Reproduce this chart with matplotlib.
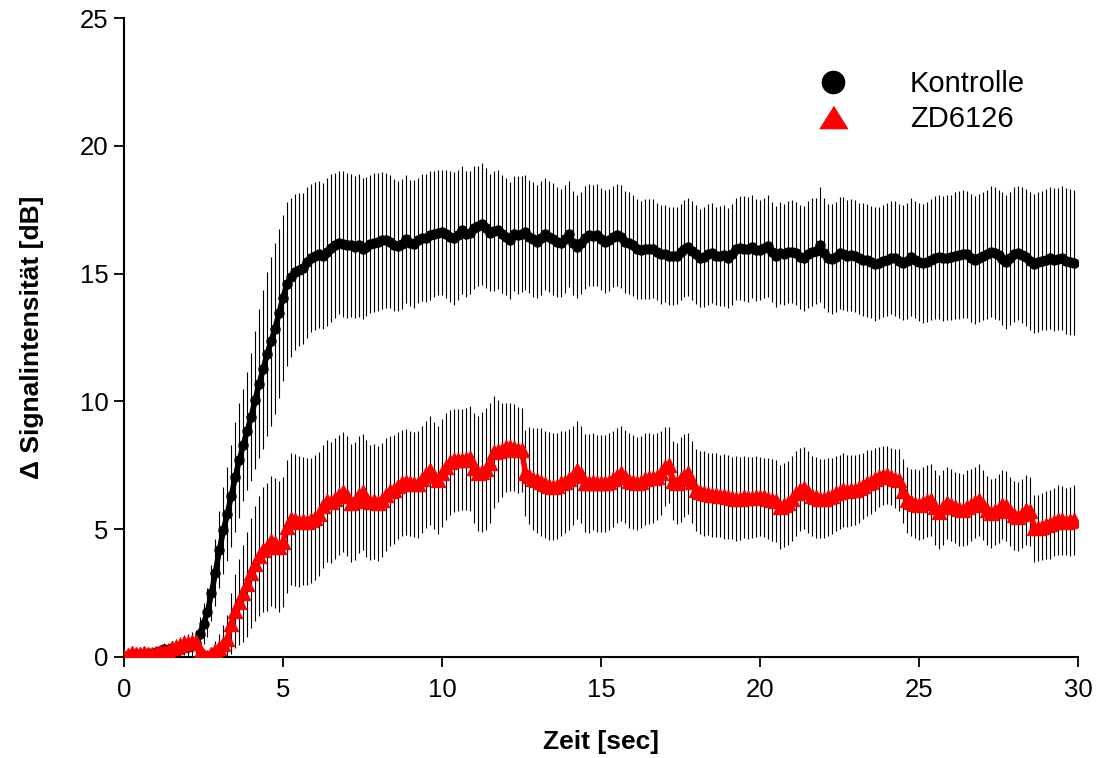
import numpy as np
import matplotlib
matplotlib.use("Agg")
import matplotlib.pyplot as plt
from matplotlib.lines import Line2D

plt.rcParams['font.family'] = ['Liberation Sans', 'DejaVu Sans']

# sampling interval of the time series (seconds)
sample_interval = 0.125

kontrolle_mean = [
    0.00, 0.05, 0.12, 0.10, 0.08, 0.12, 0.15, 0.10,
    0.18, 0.25, 0.30, 0.28, 0.35, 0.33, 0.30, 0.38,
    0.40, 0.42, 0.55, 0.90, 1.30, 1.75, 2.50, 3.30,
    4.20, 4.95, 5.60, 6.30, 7.05, 7.70, 8.30, 8.85,
    9.40, 10.05, 10.70, 11.25, 11.85, 12.35, 12.85, 13.45,
    14.05, 14.60, 14.85, 15.05, 15.15, 15.20, 15.45, 15.60,
    15.70, 15.75, 15.70, 15.85, 16.00, 16.10, 16.20, 16.15,
    16.10, 16.10, 16.05, 16.10, 15.98, 16.05, 16.15, 16.20,
    16.22, 16.30, 16.30, 16.25, 16.12, 16.08, 16.15, 16.35,
    16.20, 16.15, 16.30, 16.40, 16.40, 16.50, 16.55, 16.60,
    16.62, 16.55, 16.45, 16.38, 16.50, 16.72, 16.55, 16.60,
    16.80, 16.85, 16.95, 16.80, 16.60, 16.68, 16.72, 16.55,
    16.45, 16.30, 16.55, 16.52, 16.55, 16.62, 16.45, 16.35,
    16.25, 16.40, 16.55, 16.45, 16.35, 16.25, 16.20, 16.35,
    16.55, 16.20, 16.05, 16.20, 16.40, 16.50, 16.48, 16.50,
    16.35, 16.25, 16.30, 16.45, 16.50, 16.45, 16.25, 16.20,
    16.10, 15.95, 15.92, 15.95, 15.95, 15.98, 15.85, 15.75,
    15.78, 15.70, 15.68, 15.70, 15.85, 15.98, 16.05, 15.90,
    15.75, 15.62, 15.65, 15.75, 15.80, 15.70, 15.68, 15.72,
    15.62, 15.75, 15.95, 16.00, 15.98, 15.95, 16.05, 15.92,
    15.92, 16.00, 16.08, 15.85, 15.68, 15.80, 15.75, 15.85,
    15.86, 15.80, 15.65, 15.60, 15.75, 15.85, 15.88, 16.12,
    15.80, 15.60, 15.56, 15.65, 15.80, 15.78, 15.70, 15.73,
    15.68, 15.60, 15.55, 15.52, 15.45, 15.38, 15.42, 15.50,
    15.55, 15.62, 15.60, 15.50, 15.43, 15.50, 15.64, 15.55,
    15.45, 15.40, 15.45, 15.55, 15.62, 15.66, 15.60, 15.62,
    15.64, 15.70, 15.72, 15.78, 15.75, 15.60, 15.53, 15.62,
    15.68, 15.75, 15.86, 15.80, 15.72, 15.58, 15.47, 15.60,
    15.75, 15.80, 15.72, 15.64, 15.50, 15.38, 15.45, 15.50,
    15.55, 15.60, 15.55, 15.58, 15.60, 15.50, 15.45, 15.43,
]

kontrolle_err = [
    0.05, 0.08, 0.10, 0.12, 0.12, 0.15, 0.15, 0.18,
    0.20, 0.22, 0.25, 0.25, 0.28, 0.30, 0.30, 0.32,
    0.35, 0.40, 0.50, 0.65, 0.80, 0.95, 1.10, 1.30,
    1.50, 1.70, 1.85, 2.00, 2.15, 2.25, 2.20, 2.30,
    2.50, 2.70, 2.90, 3.10, 3.20, 3.30, 3.35, 3.30,
    3.25, 3.20, 3.10, 3.05, 3.00, 2.95, 2.95, 2.90,
    2.90, 2.88, 2.85, 2.90, 2.88, 2.85, 2.80, 2.85,
    2.82, 2.80, 2.78, 2.80, 2.75, 2.72, 2.70, 2.72,
    2.70, 2.68, 2.65, 2.60, 2.58, 2.55, 2.55, 2.50,
    2.48, 2.50, 2.45, 2.48, 2.50, 2.52, 2.48, 2.45,
    2.45, 2.50, 2.55, 2.60, 2.55, 2.50, 2.45, 2.40,
    2.40, 2.35, 2.38, 2.35, 2.30, 2.35, 2.32, 2.30,
    2.28, 2.30, 2.25, 2.30, 2.28, 2.25, 2.22, 2.25,
    2.20, 2.22, 2.20, 2.18, 2.20, 2.15, 2.12, 2.10,
    2.08, 2.05, 2.02, 2.00, 2.02, 2.00, 1.98, 2.00,
    2.00, 2.02, 2.00, 1.98, 2.00, 2.02, 2.00, 1.98,
    1.96, 1.95, 1.92, 1.95, 1.95, 1.92, 1.90, 1.92,
    1.90, 1.92, 1.92, 1.90, 1.88, 1.90, 1.92, 1.95,
    1.95, 1.92, 1.95, 1.98, 1.95, 1.92, 1.95, 1.98,
    1.95, 1.98, 2.00, 2.02, 2.05, 2.05, 2.02, 2.00,
    1.95, 1.95, 1.98, 1.95, 1.98, 2.00, 1.98, 2.00,
    2.00, 2.02, 2.05, 2.05, 2.08, 2.10, 2.08, 2.25,
    2.15, 2.12, 2.15, 2.15, 2.18, 2.20, 2.18, 2.20,
    2.20, 2.18, 2.20, 2.22, 2.20, 2.22, 2.20, 2.18,
    2.20, 2.22, 2.25, 2.22, 2.25, 2.28, 2.30, 2.28,
    2.30, 2.32, 2.35, 2.38, 2.40, 2.42, 2.45, 2.45,
    2.45, 2.48, 2.50, 2.50, 2.48, 2.50, 2.52, 2.50,
    2.50, 2.52, 2.55, 2.58, 2.55, 2.60, 2.62, 2.60,
    2.65, 2.62, 2.65, 2.68, 2.70, 2.72, 2.75, 2.72,
    2.75, 2.78, 2.80, 2.78, 2.82, 2.85, 2.85, 2.85,
]

zd6126_mean = [
    0.00, 0.08, 0.14, 0.10, 0.12, 0.14, 0.10, 0.12,
    0.15, 0.18, 0.20, 0.22, 0.34, 0.40, 0.48, 0.53,
    0.55, 0.58, 0.60, 0.15, 0.02, 0.00, 0.10, 0.22,
    0.35, 0.50, 0.70, 1.30, 1.80, 2.15, 2.50, 2.85,
    3.30, 3.65, 3.95, 4.20, 4.30, 4.55, 4.45, 4.32,
    4.50, 5.10, 5.40, 5.35, 5.30, 5.32, 5.30, 5.35,
    5.45, 5.60, 5.90, 6.10, 6.05, 6.20, 6.35, 6.45,
    6.30, 6.02, 6.10, 6.35, 6.45, 6.20, 6.05, 6.10,
    6.02, 6.15, 6.35, 6.50, 6.55, 6.70, 6.80, 6.85,
    6.80, 6.75, 6.75, 6.95, 7.15, 7.30, 7.10, 6.92,
    7.20, 7.45, 7.62, 7.70, 7.70, 7.72, 7.75, 7.78,
    7.40, 7.18, 7.25, 7.35, 7.60, 8.03, 8.05, 8.10,
    8.20, 8.23, 8.18, 8.10, 8.10, 7.20, 7.10, 6.95,
    6.92, 6.85, 6.75, 6.70, 6.66, 6.70, 6.80, 6.86,
    6.95, 7.10, 7.32, 7.15, 6.80, 6.79, 6.85, 6.80,
    6.80, 6.79, 6.85, 6.95, 7.10, 7.18, 7.05, 6.90,
    6.85, 6.79, 6.85, 6.95, 7.00, 6.99, 7.05, 7.20,
    7.45, 7.51, 6.90, 6.79, 6.95, 7.10, 7.18, 6.85,
    6.53, 6.45, 6.40, 6.38, 6.35, 6.34, 6.30, 6.28,
    6.25, 6.22, 6.20, 6.20, 6.25, 6.22, 6.24, 6.27,
    6.27, 6.25, 6.20, 6.15, 6.10, 5.88, 5.95, 6.02,
    6.20, 6.40, 6.55, 6.60, 6.45, 6.30, 6.25, 6.20,
    6.20, 6.25, 6.30, 6.40, 6.45, 6.53, 6.50, 6.52,
    6.53, 6.60, 6.70, 6.80, 6.86, 6.95, 7.05, 7.10,
    7.12, 7.05, 6.98, 6.92, 6.50, 6.14, 6.05, 6.00,
    5.95, 6.02, 6.10, 6.14, 5.85, 5.68, 5.85, 6.02,
    5.95, 5.85, 5.78, 5.75, 5.85, 5.95, 6.05, 6.14,
    5.95, 5.75, 5.62, 5.70, 5.80, 5.95, 5.90, 5.70,
    5.55, 5.49, 5.60, 5.75, 5.70, 5.03, 5.05, 5.10,
    5.16, 5.20, 5.28, 5.36, 5.35, 5.30, 5.32, 5.36,
]

zd6126_err = [
    0.05, 0.08, 0.10, 0.10, 0.12, 0.12, 0.15, 0.15,
    0.18, 0.20, 0.22, 0.25, 0.28, 0.30, 0.32, 0.35,
    0.35, 0.38, 0.40, 0.30, 0.25, 0.25, 0.30, 0.40,
    0.55, 0.75, 0.95, 1.20, 1.45, 1.70, 1.90, 2.05,
    2.15, 2.25, 2.35, 2.45, 2.50, 2.55, 2.55, 2.55,
    2.55, 2.60, 2.60, 2.58, 2.55, 2.50, 2.50, 2.45,
    2.45, 2.42, 2.40, 2.40, 2.38, 2.35, 2.35, 2.35,
    2.35, 2.32, 2.30, 2.30, 2.28, 2.28, 2.25, 2.25,
    2.25, 2.22, 2.20, 2.15, 2.12, 2.10, 2.08, 2.08,
    2.05, 2.05, 2.08, 2.10, 2.10, 2.12, 2.10, 2.10,
    2.10, 2.08, 2.05, 2.02, 2.00, 1.98, 2.00, 2.05,
    2.15, 2.25, 2.35, 2.38, 2.35, 2.20, 2.00, 1.85,
    1.75, 1.72, 1.70, 1.68, 1.65, 1.70, 1.90, 2.00,
    2.05, 2.10, 2.10, 2.12, 2.10, 2.08, 2.05, 2.00,
    1.98, 1.95, 1.92, 1.90, 1.92, 1.95, 1.90, 1.90,
    1.90, 1.88, 1.90, 1.88, 1.85, 1.85, 1.82, 1.85,
    1.85, 1.82, 1.80, 1.80, 1.78, 1.75, 1.70, 1.65,
    1.55, 1.50, 1.55, 1.60, 1.65, 1.62, 1.60, 1.62,
    1.60, 1.62, 1.65, 1.62, 1.65, 1.65, 1.62, 1.65,
    1.65, 1.62, 1.65, 1.62, 1.60, 1.62, 1.60, 1.58,
    1.55, 1.55, 1.58, 1.60, 1.62, 1.65, 1.65, 1.65,
    1.65, 1.65, 1.62, 1.60, 1.60, 1.58, 1.58, 1.55,
    1.55, 1.52, 1.50, 1.48, 1.45, 1.45, 1.42, 1.40,
    1.38, 1.35, 1.30, 1.28, 1.25, 1.22, 1.18, 1.15,
    1.12, 1.12, 1.15, 1.20, 1.25, 1.30, 1.32, 1.35,
    1.38, 1.40, 1.40, 1.42, 1.45, 1.45, 1.45, 1.42,
    1.42, 1.40, 1.42, 1.42, 1.45, 1.42, 1.40, 1.40,
    1.38, 1.35, 1.35, 1.32, 1.35, 1.35, 1.38, 1.35,
    1.35, 1.35, 1.35, 1.38, 1.35, 1.32, 1.30, 1.32,
    1.32, 1.35, 1.32, 1.35, 1.35, 1.32, 1.35, 1.35,
]

series_labels = ["Kontrolle", "ZD6126"]
x_ticks = [0, 5, 10, 15, 20, 25, 30]
y_ticks = [0, 5, 10, 15, 20, 25]
x_label = "Zeit [sec]"
y_label = "\u0394 Signalintensit\u00e4t [dB]"

time = np.arange(len(kontrolle_mean)) * sample_interval

fig = plt.figure(figsize=(10.98, 7.58), dpi=100)
ax = fig.add_axes([124 / 1098, 1 - 657 / 758, 954 / 1098, 639 / 758])

ax.errorbar(time, kontrolle_mean, yerr=kontrolle_err, fmt='none',
            ecolor='black', elinewidth=0.8, capsize=0, zorder=1)
ax.errorbar(time, zd6126_mean, yerr=zd6126_err, fmt='none',
            ecolor='black', elinewidth=0.8, capsize=0, zorder=1)

ax.plot(time, kontrolle_mean, color='black', lw=4.0, marker='o', ms=6.5,
        zorder=3)
ax.plot(time, zd6126_mean, color='red', lw=4.0, marker='^', ms=10,
        mec='red', zorder=4)

ax.set_xlim(0, 30)
ax.set_ylim(0, 25)
ax.set_xticks(x_ticks)
ax.set_yticks(y_ticks)
ax.tick_params(axis='both', direction='out', length=7, width=1.3,
               labelsize=18.5)
ax.tick_params(axis='x', pad=8)
ax.tick_params(axis='y', pad=4)
for s in ['top', 'right']:
    ax.spines[s].set_visible(False)
for s in ['left', 'bottom']:
    ax.spines[s].set_linewidth(1.5)

ax.set_xlabel(x_label, fontsize=19, fontweight='bold', labelpad=20)
ax.set_ylabel(y_label, fontsize=19, fontweight='bold', labelpad=26)

handles = [
    Line2D([], [], color='black', marker='o', linestyle='none', ms=16),
    Line2D([], [], color='red', marker=[(-1.0, -0.8), (1.0, -0.8), (0.0, 0.8)],
           linestyle='none', ms=20),
]
ax.legend(handles, series_labels, loc='upper left',
          bbox_to_anchor=(0.7126, 0.919), frameon=False, fontsize=21,
          handlelength=2.0, handletextpad=1.64, labelspacing=0.25,
          borderaxespad=0, borderpad=0)

fig.savefig("out.png", dpi=100)
